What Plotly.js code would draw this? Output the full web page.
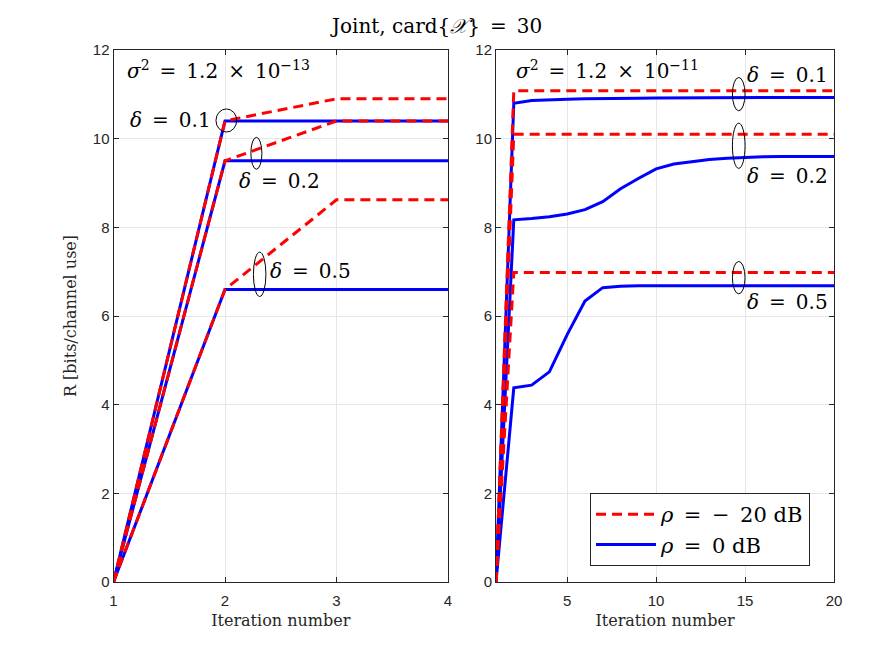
<!DOCTYPE html>
<html>
<head>
<meta charset="utf-8">
<script src="https://cdn.plot.ly/plotly-3.0.1.min.js"></script>
<style>
  html, body { margin: 0; padding: 0; background: #fff; }
  #graph { width: 872px; height: 654px; }
</style>
</head>
<body>
<div id="graph"></div>
<script>
// left panel: sigma^2 = 1.2e-13
const leftIter = [1, 2, 3, 4];
const leftRed01 = [0, 10.4, 10.9, 10.9];
const leftBlue01 = [0, 10.4, 10.4, 10.4];
const leftRed02 = [0, 9.5, 10.4, 10.4];
const leftBlue02 = [0, 9.5, 9.5, 9.5];
const leftRed05 = [0, 6.6, 8.62, 8.62];
const leftBlue05 = [0, 6.6, 6.6, 6.6];

// right panel: sigma^2 = 1.2e-11
const rightIter = [1, 2, 3, 4, 5, 6, 7, 8, 9, 10, 11, 12, 13, 14, 15, 16, 17, 18, 19, 20];
const rightRed01 = [0, 11.08, 11.08, 11.08, 11.08, 11.08, 11.08, 11.08, 11.08, 11.08, 11.08, 11.08, 11.08, 11.08, 11.08, 11.08, 11.08, 11.08, 11.08, 11.08];
const rightBlue01 = [0, 10.8, 10.86, 10.88, 10.89, 10.9, 10.9, 10.91, 10.91, 10.92, 10.92, 10.92, 10.92, 10.93, 10.93, 10.93, 10.93, 10.93, 10.93, 10.93];
const rightRed02 = [0, 10.1, 10.1, 10.1, 10.1, 10.1, 10.1, 10.1, 10.1, 10.1, 10.1, 10.1, 10.1, 10.1, 10.1, 10.1, 10.1, 10.1, 10.1, 10.1];
const rightBlue02 = [0, 8.17, 8.2, 8.24, 8.3, 8.4, 8.58, 8.87, 9.1, 9.32, 9.43, 9.48, 9.53, 9.56, 9.58, 9.59, 9.6, 9.6, 9.6, 9.6];
const rightRed05 = [0, 6.98, 6.98, 6.98, 6.98, 6.98, 6.98, 6.98, 6.98, 6.98, 6.98, 6.98, 6.98, 6.98, 6.98, 6.98, 6.98, 6.98, 6.98, 6.98];
const rightBlue05 = [0, 4.38, 4.44, 4.74, 5.58, 6.34, 6.64, 6.67, 6.68, 6.68, 6.68, 6.68, 6.68, 6.68, 6.68, 6.68, 6.68, 6.68, 6.68, 6.68];

const yTicks = [0, 2, 4, 6, 8, 10, 12];
const leftXTicks = [1, 2, 3, 4];
const rightXTicks = [5, 10, 15, 20];

// en-spaces round "=" to get the wide TeX math spacing
const sp = '\u2002';
const redName = '<i>ρ</i>' + sp + '=' + sp + '−' + sp + '20 dB';
const blueName = '<i>ρ</i>' + sp + '=' + sp + '0 dB';

const serif = "DejaVu Serif, Liberation Serif, serif";
const sans = "Liberation Sans, Arial, sans-serif";
const axisColor = "#262626";

function blue(x, y, xa, ya, show) {
    return {
        x: x, y: y, xaxis: xa, yaxis: ya,
        mode: 'lines', name: blueName, legendgroup: 'blue', legendrank: 2,
        showlegend: show,
        line: { color: '#0000ff', width: 3 },
    };
}

function red(x, y, xa, ya, show) {
    return {
        x: x, y: y, xaxis: xa, yaxis: ya,
        mode: 'lines', name: redName, legendgroup: 'red', legendrank: 1,
        showlegend: show,
        line: { color: '#ff0000', width: 3, dash: '10px,6px' },
    };
}

// blue first so the red dashes lie on top, as in the original
const traces = [
    blue(leftIter, leftBlue01, 'x', 'y', false),
    blue(leftIter, leftBlue02, 'x', 'y', false),
    blue(leftIter, leftBlue05, 'x', 'y', false),
    red(leftIter, leftRed01, 'x', 'y', false),
    red(leftIter, leftRed02, 'x', 'y', false),
    red(leftIter, leftRed05, 'x', 'y', false),
    blue(rightIter, rightBlue01, 'x2', 'y2', true),
    blue(rightIter, rightBlue02, 'x2', 'y2', false),
    blue(rightIter, rightBlue05, 'x2', 'y2', false),
    red(rightIter, rightRed01, 'x2', 'y2', true),
    red(rightIter, rightRed02, 'x2', 'y2', false),
    red(rightIter, rightRed05, 'x2', 'y2', false),
];

function axis(extra) {
    return Object.assign({
        showline: true, mirror: 'ticks', linecolor: axisColor, linewidth: 1,
        ticks: 'inside', ticklen: 5, tickcolor: axisColor,
        showgrid: true, gridcolor: '#e6e6e6', gridwidth: 1,
        zeroline: false,
        tickfont: { family: sans, size: 15, color: axisColor },
        fixedrange: true,
    }, extra);
}

const yDomain = [1 - 582 / 654, 1 - 50 / 654];
const xTitleFont = { family: serif, size: 16, color: axisColor };

function label(text, x, y, xref, yref, xanchor) {
    return {
        text: text, x: x, y: y, xref: xref, yref: yref,
        xanchor: xanchor, yanchor: 'middle', showarrow: false,
        font: { family: serif, size: 20, color: '#000' },
    };
}

function ellipse(xref, yref, x0, x1, y0, y1) {
    return {
        type: 'circle', xref: xref, yref: yref,
        x0: x0, x1: x1, y0: y0, y1: y1,
        line: { color: '#000', width: 1 },
    };
}

const delta = (v) => '<i>δ</i>' + sp + '=' + sp + v;
const sigma = (e) => '<i>σ</i><sup>2</sup>' + sp + '=' + sp + '1.2' + sp + '×' + sp + '10<sup>−' + e + '</sup>';

const layout = {
    width: 872, height: 654,
    margin: { l: 0, r: 0, t: 0, b: 0 },
    paper_bgcolor: '#fff', plot_bgcolor: '#fff',
    showlegend: true,
    xaxis: axis({
        domain: [113.5 / 872, 448 / 872], range: [1, 4], tickvals: leftXTicks, anchor: 'y',
        ticklabelstandoff: 5,
        title: { text: 'Iteration number', font: xTitleFont, standoff: 6 },
    }),
    yaxis: axis({
        domain: yDomain, range: [0, 12], tickvals: yTicks, anchor: 'x',
        title: { text: 'R [bits/channel use]', font: { family: serif, size: 16, color: axisColor }, standoff: 12 },
    }),
    xaxis2: axis({
        domain: [496 / 872, 834 / 872], range: [1, 20], tickvals: rightXTicks, anchor: 'y2',
        ticklabelstandoff: 5,
        title: { text: 'Iteration number', font: xTitleFont, standoff: 6 },
    }),
    yaxis2: axis({
        domain: yDomain, range: [0, 12], tickvals: yTicks, anchor: 'x2',
    }),
    legend: {
        x: 590 / 872, y: 1 - 493 / 654, xanchor: 'left', yanchor: 'top',
        bgcolor: '#fff', bordercolor: axisColor, borderwidth: 1,
        font: { family: serif, size: 21, color: '#000' },
        itemwidth: 60, tracegroupgap: 0,
    },
    annotations: [
        {
            text: 'Joint, card{<i>𝒳</i>}' + sp + '=' + sp + '30', x: 0.5, y: 1 - 26 / 654,
            xref: 'paper', yref: 'paper', xanchor: 'center', yanchor: 'middle',
            showarrow: false, font: { family: serif, size: 20, color: '#000' },
        },
        label(sigma('13'), 1.1, 11.55, 'x', 'y', 'left'),
        label(delta('0.1'), 1.89, 10.42, 'x', 'y', 'right'),
        label(delta('0.2'), 2.107, 9.05, 'x', 'y', 'left'),
        label(delta('0.5'), 2.385, 7.02, 'x', 'y', 'left'),
        label(sigma('11'), 2.0, 11.55, 'x2', 'y2', 'left'),
        label(delta('0.1'), 15.0, 11.44, 'x2', 'y2', 'left'),
        label(delta('0.2'), 15.0, 9.16, 'x2', 'y2', 'left'),
        label(delta('0.5'), 15.0, 6.32, 'x2', 'y2', 'left'),
    ],
    shapes: [
        ellipse('x', 'y', 1.919, 2.105, 10.15, 10.67),
        ellipse('x', 'y', 2.232, 2.331, 9.31, 10.03),
        ellipse('x', 'y', 2.255, 2.367, 6.44, 7.44),
        ellipse('x2', 'y2', 14.29, 15.0, 10.63, 11.38),
        ellipse('x2', 'y2', 14.29, 15.0, 9.33, 10.35),
        ellipse('x2', 'y2', 14.29, 15.0, 6.5, 7.23),
    ],
};

const config = { displayModeBar: false, responsive: false };

Plotly.newPlot('graph', traces, layout, config);
</script>
</body>
</html>
